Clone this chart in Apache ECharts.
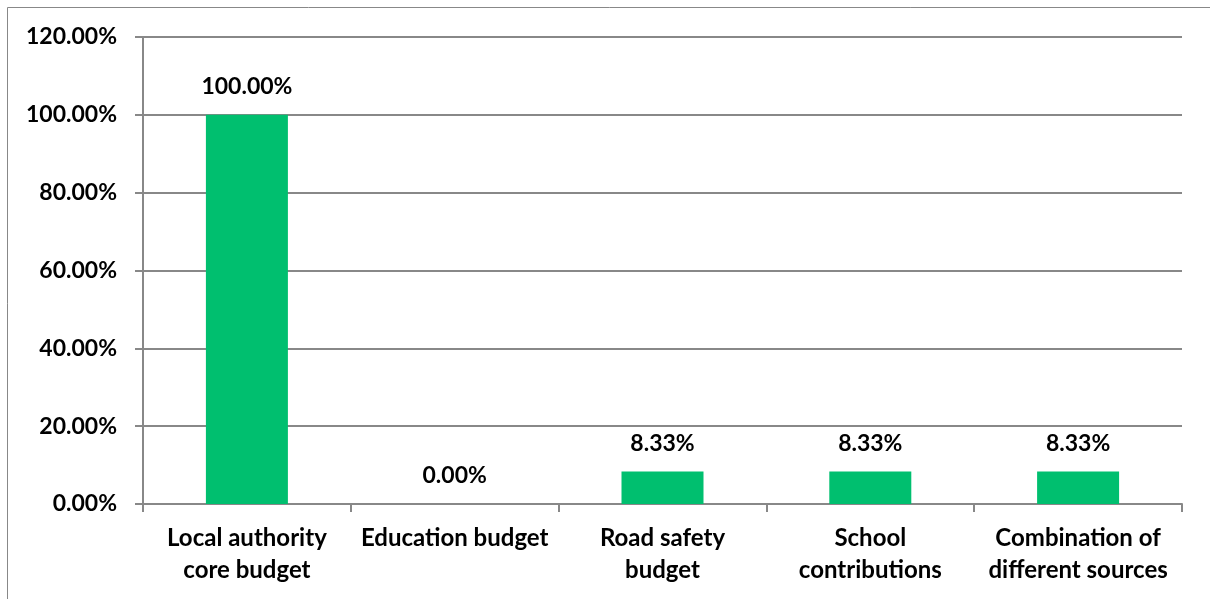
<!DOCTYPE html>
<html><head><meta charset="utf-8">
<script src="https://cdn.jsdelivr.net/npm/echarts@6/dist/echarts.min.js"></script>
<style>html,body{margin:0;padding:0;background:#fff}#c{width:1210px;height:599px}</style>
</head><body><div id="c"></div>
<script>
const categories = ["Local authority\ncore budget", "Education budget", "Road safety\nbudget", "School\ncontributions", "Combination of\ndifferent sources"];
const values = [100.00, 0.00, 8.33, 8.33, 8.33];
const yTicks = [0, 20, 40, 60, 80, 100, 120];

const FONT = 'Lato, "Open Sans", sans-serif';
const chart = echarts.init(document.getElementById('c'));
chart.setOption({
  animation: false,
  graphic: [{type:'rect', shape:{x:7.5,y:7.5,width:1230,height:620}, style:{fill:'none', stroke:'#888', lineWidth:1}}],
  grid: {left:143, right:28, top:37, bottom:95},
  xAxis: {
    type:'category', data: categories,
    axisLine:{lineStyle:{color:'#888', width:2}},
    axisTick:{show:true, alignWithLabel:false, length:8, lineStyle:{color:'#888', width:2}},
    axisLabel:{color:'#000', fontFamily:FONT, fontWeight:'bold', fontSize:24, lineHeight:32, margin:18, interval:0}
  },
  yAxis: {
    type:'value', min:yTicks[0], max:yTicks[yTicks.length-1], interval:20,
    axisLine:{show:true, lineStyle:{color:'#888', width:2}},
    axisTick:{show:true, length:8, inside:false, lineStyle:{color:'#888', width:2}},
    splitLine:{lineStyle:{color:'#888', width:2}},
    axisLabel:{color:'#000', fontFamily:FONT, fontWeight:'bold', fontSize:23, margin:26,
      formatter: v => v.toFixed(2) + '%'}
  },
  series: [{
    type:'bar', data: values, barWidth:82,
    itemStyle:{color:'#00BF6F'},
    label:{show:true, position:'top', distance:17, color:'#000', fontFamily:FONT, fontWeight:'bold', fontSize:23,
      formatter: p => p.value.toFixed(2) + '%'}
  }]
});
</script></body></html>
